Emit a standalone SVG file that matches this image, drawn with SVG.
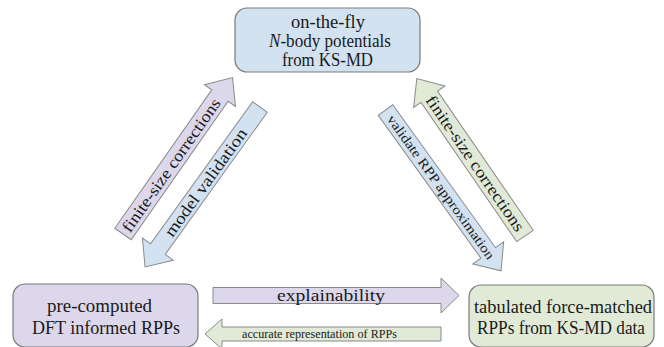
<svg xmlns="http://www.w3.org/2000/svg" width="664" height="347" viewBox="0 0 664 347" font-family="Liberation Serif, serif">
<style>
.node rect{stroke:#7a7a7a;stroke-width:1.2}
.t{fill:#1a1a1a;text-anchor:middle}
.nt{font-size:18px}
.arr{stroke:#8a8a8a;stroke-width:1}
.lav{fill:#dcd7ea}
.blu{fill:#d2e2f1}
.grn{fill:#e0ead6}
.al{font-size:16.5px;dominant-baseline:central}
</style>
<rect width="664" height="347" fill="#ffffff"/>
<g id="node-top" class="node">
<rect x="235" y="8" width="185" height="64" rx="12" class="blu"/>
<text class="t nt" x="328" y="28" textLength="74" lengthAdjust="spacingAndGlyphs">on-the-fly</text>
<text class="t nt" x="330" y="47" textLength="122" lengthAdjust="spacingAndGlyphs"><tspan font-style="italic">N</tspan>-body potentials</text>
<text class="t nt" x="327.5" y="66" textLength="91" lengthAdjust="spacingAndGlyphs">from KS-MD</text>
</g>
<g id="node-left" class="node">
<rect x="13" y="284" width="185" height="63" rx="12" class="lav"/>
<text class="t nt" x="99.5" y="312" textLength="105" lengthAdjust="spacingAndGlyphs">pre-computed</text>
<text class="t nt" x="106" y="334" textLength="148" lengthAdjust="spacingAndGlyphs">DFT informed RPPs</text>
</g>
<g id="node-right" class="node">
<rect x="469" y="285" width="185" height="62" rx="12" class="grn"/>
<text class="t nt" x="563" y="313" textLength="178" lengthAdjust="spacingAndGlyphs">tabulated force-matched</text>
<text class="t nt" x="561" y="334" textLength="168" lengthAdjust="spacingAndGlyphs">RPPs from KS-MD data</text>
</g>
<g id="connectors">
<g transform="translate(123,234) rotate(-55)">
<polygon class="arr lav" points="0,-10 169,-10 169,-19 191,0 169,19 169,10 0,10"/>
<text class="t al" x="84" y="0" textLength="159" lengthAdjust="spacingAndGlyphs">finite-size corrections</text>
</g>
<g transform="translate(260,107) rotate(125.7)">
<polygon class="arr blu" points="0,-9 175,-9 175,-19 197,0 175,19 175,9 0,9"/>
<text class="t al" x="93" y="0" transform="rotate(180 93 0)" textLength="129" lengthAdjust="spacingAndGlyphs">model validation</text>
</g>
<g transform="translate(385.5,110) rotate(54.3)">
<polygon class="arr blu" points="0,-9 176,-9 176,-19 198,0 176,19 176,9 0,9"/>
<text class="t al" x="95" y="0" style="font-size:13.5px" textLength="174" lengthAdjust="spacingAndGlyphs">validate RPP approximation</text>
</g>
<g transform="translate(525,236) rotate(-124.5)">
<polygon class="arr grn" points="0,-10 169,-10 169,-19 191,0 169,19 169,10 0,10"/>
<text class="t al" x="88" y="0" transform="rotate(180 88 0)" textLength="161" lengthAdjust="spacingAndGlyphs">finite-size corrections</text>
</g>
<g>
<polygon class="arr lav" points="213,287.5 441,287.5 441,278 459,295.5 441,313 441,303.5 213,303.5"/>
<text class="t" x="331" y="300.5" style="font-size:17px" textLength="108" lengthAdjust="spacingAndGlyphs">explainability</text>
</g>
<g>
<polygon class="arr grn" points="441,327 222,327 222,319 205,334 222,349 222,341 441,341"/>
<text class="t" x="319.5" y="338" style="font-size:11.5px" textLength="155" lengthAdjust="spacingAndGlyphs">accurate representation of RPPs</text>
</g>
</g>
</svg>
